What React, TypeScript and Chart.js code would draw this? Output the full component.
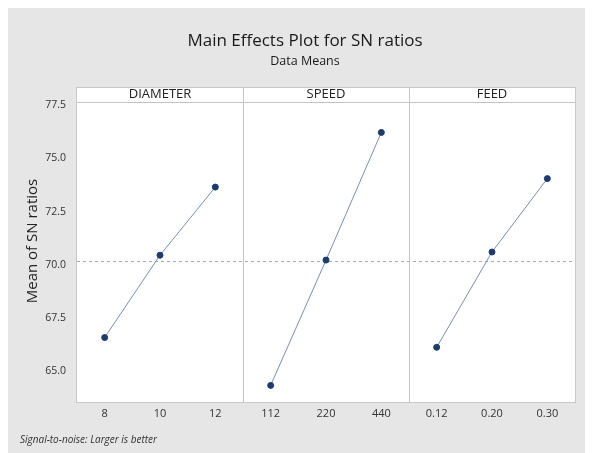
import React, { useEffect, useRef } from "react";
import { Chart, registerables } from "chart.js";

Chart.register(...registerables);

// ---- data ----
const factorNames = ["DIAMETER", "SPEED", "FEED"];
const diameterLevels = ["8", "10", "12"];
const speedLevels = ["112", "220", "440"];
const feedLevels = ["0.12", "0.20", "0.30"];
const diameterMeans = [66.58, 70.45, 73.65];
const speedMeans = [64.33, 70.22, 76.22];
const feedMeans = [66.12, 70.6, 74.05];
const grandMean = 70.2;
const yTicks = [65.0, 67.5, 70.0, 72.5, 75.0, 77.5];

const titleText = "Main Effects Plot for SN ratios";
const subtitleText = "Data Means";
const yAxisTitle = "Mean of SN ratios";
const footnoteText = "Signal-to-noise: Larger is better";

const FONT = "'Open Sans', 'Noto Sans', sans-serif";
const HEADER_H = 15;

const allLevels = [...diameterLevels, ...speedLevels, ...feedLevels];
const levelGroups = [diameterLevels, speedLevels, feedLevels];
const meanGroups = [diameterMeans, speedMeans, feedMeans];

const decorPlugin = {
  id: "decor",
  beforeDraw(chart: any) {
    const { ctx, chartArea: a, width, height } = chart;
    ctx.save();
    ctx.fillStyle = "#e6e6e6";
    ctx.fillRect(0, 0, width, height);
    ctx.fillStyle = "#ffffff";
    ctx.fillRect(a.left, a.top - HEADER_H, a.right - a.left, a.bottom - a.top + HEADER_H);
    ctx.restore();
  },
  beforeDatasetsDraw(chart: any) {
    const { ctx, chartArea: a, scales } = chart;
    const x = scales.x;
    const y = scales.y;
    ctx.save();
    // reference line
    const yy = Math.round(y.getPixelForValue(grandMean)) + 0.5;
    ctx.strokeStyle = "#a9a9a9";
    ctx.lineWidth = 1;
    ctx.setLineDash([3, 3]);
    ctx.beginPath();
    ctx.moveTo(a.left, yy);
    ctx.lineTo(a.right, yy);
    ctx.stroke();
    ctx.setLineDash([]);
    // panel dividers
    ctx.strokeStyle = "#c4c4c4";
    let idx = 0;
    const bounds: number[] = [a.left];
    levelGroups.forEach((g, gi) => {
      idx += g.length;
      if (gi < levelGroups.length - 1) {
        const px = (x.getPixelForValue(idx - 1) + x.getPixelForValue(idx)) / 2;
        bounds.push(px);
        const xx = Math.round(px) + 0.5;
        ctx.beginPath();
        ctx.moveTo(xx, a.top - HEADER_H);
        ctx.lineTo(xx, a.bottom);
        ctx.stroke();
      }
    });
    bounds.push(a.right);
    // header bottom line
    ctx.beginPath();
    ctx.moveTo(a.left, Math.round(a.top) + 0.5);
    ctx.lineTo(a.right, Math.round(a.top) + 0.5);
    ctx.stroke();
    // outer frame
    ctx.strokeStyle = "#c8c8c8";
    ctx.strokeRect(Math.round(a.left) - 0.5, Math.round(a.top - HEADER_H) + 0.5, Math.round(a.right - a.left) + 1, Math.round(a.bottom - a.top + HEADER_H));
    // header labels
    ctx.fillStyle = "#222";
    ctx.font = `13px ${FONT}`;
    ctx.textAlign = "center";
    ctx.textBaseline = "middle";
    factorNames.forEach((n, i) => {
      ctx.fillText(n, (bounds[i] + bounds[i + 1]) / 2, a.top - HEADER_H / 2);
    });
    ctx.restore();
  },
  afterDraw(chart: any) {
    const { ctx } = chart;
    ctx.save();
    ctx.fillStyle = "#1a1a1a";
    ctx.textAlign = "center";
    ctx.textBaseline = "middle";
    ctx.font = `17px ${FONT}`;
    ctx.fillText(titleText, 297, 33);
    ctx.font = `12.5px ${FONT}`;
    ctx.fillText(subtitleText, 297, 53);
    // y-axis title
    ctx.save();
    ctx.translate(25, 233);
    ctx.rotate(-Math.PI / 2);
    ctx.font = `15px ${FONT}`;
    ctx.fillStyle = "#222";
    ctx.fillText(yAxisTitle, 0, 0);
    ctx.restore();
    ctx.fillStyle = "#333";
    ctx.textAlign = "left";
    ctx.font = `italic 10px ${FONT}`;
    ctx.fillText(footnoteText, 12, 432);
    ctx.restore();
  },
};

export default function App() {
  const ref = useRef<HTMLCanvasElement | null>(null);
  useEffect(() => {
    if (!ref.current) return;
    const datasets = levelGroups.map((g, gi) => ({
      label: factorNames[gi],
      data: g.map((lv, i) => ({ x: lv, y: meanGroups[gi][i] })),
      borderColor: "#7d8fab",
      borderWidth: 1,
      pointBackgroundColor: "#1d3c6b",
      pointBorderColor: "#1d3c6b",
      pointRadius: 3,
      pointHoverRadius: 3,
      tension: 0,
      fill: false,
    }));
    const chart = new Chart(ref.current, {
      type: "line",
      data: { labels: allLevels, datasets },
      options: {
        responsive: false,
        animation: false,
        layout: { padding: { top: 94, right: 18, bottom: 0, left: 0 } },
        plugins: { legend: { display: false }, tooltip: { enabled: false }, title: { display: false } },
        scales: {
          x: {
            type: "category",
            offset: true,
            grid: { display: false, drawTicks: false },
            border: { display: false },
            ticks: { color: "#333", font: { family: FONT, size: 11 }, padding: 5, autoSkip: false, maxRotation: 0 },
            afterFit: (s: any) => { s.height = 51; },
          },
          y: {
            type: "linear",
            min: 63.55,
            max: 77.65,
            grid: { display: false, drawTicks: false },
            border: { display: false },
            afterBuildTicks: (s: any) => { s.ticks = yTicks.map((v) => ({ value: v })); },
            ticks: { color: "#333", font: { family: FONT, size: 10.5 }, padding: 11, callback: (v: any) => Number(v).toFixed(1) },
            title: { display: false },
            afterFit: (s: any) => { s.width = 69; },
          },
        },
      },
      plugins: [decorPlugin],
    });
    return () => chart.destroy();
  }, []);
  return (
    <div style={{ width: 585, height: 445 }}>
      <canvas ref={ref} width={585} height={445} style={{ display: "block" }} />
    </div>
  );
}
